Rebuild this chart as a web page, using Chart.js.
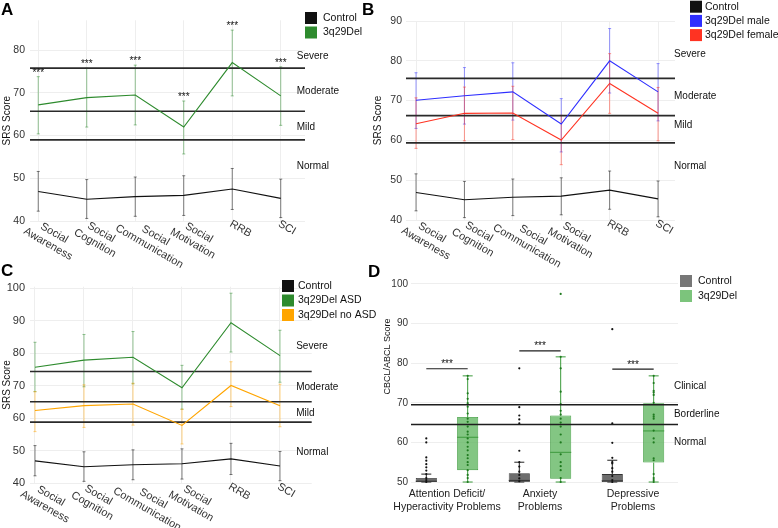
<!DOCTYPE html>
<html>
<head>
<meta charset="utf-8">
<script src="https://cdn.jsdelivr.net/npm/chart.js@4.4.1/dist/chart.umd.min.js"></script>
<style>
  html, body { margin: 0; padding: 0; background: #fff; }
  body { width: 778px; height: 528px; position: relative; overflow: hidden; }
  .panel { position: absolute; }
  .tag { position: absolute; font: bold 17px/20px "Liberation Sans", Arial, sans-serif; color: #000; }
</style>
</head>
<body>
<div class="panel" style="left:0;top:0;width:368px;height:270px"><canvas id="chartA"></canvas></div>
<div class="panel" style="left:362px;top:0;width:416px;height:270px"><canvas id="chartB"></canvas></div>
<div class="panel" style="left:0;top:270px;width:380px;height:258px"><canvas id="chartC"></canvas></div>
<div class="panel" style="left:370px;top:270px;width:408px;height:258px"><canvas id="chartD"></canvas></div>
<div class="tag" style="left:1px;top:0">A</div>
<div class="tag" style="left:362px;top:0">B</div>
<div class="tag" style="left:1px;top:261px">C</div>
<div class="tag" style="left:368px;top:262px">D</div>
<script>
const fontFamily = '"Liberation Sans", Arial, sans-serif';
Chart.defaults.font.family = fontFamily;

// SRS subscales, panels A-C
const srsCategories = [['Social', 'Awareness'], ['Social', 'Cognition'], ['Social', 'Communication'], ['Social', 'Motivation'], ['RRB'], ['SCI']];
const srsBands = ['Severe', 'Moderate', 'Mild', 'Normal'];

const controlMean = [46.9, 45.1, 45.7, 46.0, 47.5, 45.3];
const controlLow = [42.3, 40.6, 41.1, 41.3, 42.7, 40.8];
const controlHigh = [51.6, 49.7, 50.3, 50.6, 52.3, 49.8];

const delMean = [67.2, 68.9, 69.5, 62.0, 77.1, 69.3];
const delLow = [60.4, 62.0, 62.5, 55.7, 69.3, 62.4];
const delHigh = [73.8, 75.8, 76.5, 68.1, 84.7, 76.1];
const delStars = ['***', '***', '***', '***', '***', '***'];

const maleMean = [70.1, 71.2, 72.2, 64.1, 80.0, 72.2];
const maleLow = [63.0, 64.1, 65.1, 57.1, 71.9, 64.9];
const maleHigh = [77.0, 78.3, 79.5, 70.5, 88.1, 79.3];
const femaleMean = [64.2, 66.8, 66.9, 60.1, 74.3, 66.8];
const femaleLow = [58.0, 59.9, 60.2, 53.9, 66.8, 59.9];
const femaleHigh = [70.7, 73.4, 73.6, 66.3, 81.8, 73.3];

const asdMean = [75.7, 77.9, 78.8, 69.4, 89.4, 79.3];
const asdLow = [68.2, 69.7, 70.6, 62.8, 80.4, 71.1];
const asdHigh = [83.4, 85.8, 86.7, 76.3, 98.5, 87.1];
const noAsdMean = [62.4, 63.9, 64.4, 57.8, 70.1, 63.9];
const noAsdLow = [55.9, 57.2, 57.9, 52.1, 63.6, 57.4];
const noAsdHigh = [68.2, 70.3, 70.8, 62.8, 77.4, 70.5];

const cutoffsA = [75.8, 65.7, 59.0];
const bandLevelsA = [78.6, 70.4, 62.0, 52.9];
const cutoffsB = [75.6, 66.2, 59.4];
const bandLevelsB = [81.7, 71.2, 63.7, 53.4];
const cutoffsC = [74.4, 65.1, 58.8];
const bandLevelsC = [82.2, 69.5, 61.7, 49.7];

// CBCL/ABCL, panel D
const cbclCategories = [['Attention Deficit/', 'Hyperactivity Problems'], ['Anxiety', 'Problems'], ['Depressive', 'Problems']];
const cbclBands = ['Clinical', 'Borderline', 'Normal'];
const cbclCutoffs = [69.5, 64.5];
const cbclBandLevels = [74.2, 67.2, 60.1];
const sigLevels = [78.6, 83.1, 78.5];

const ctrlQ1 = [50, 50, 50];
const ctrlMedian = [50.2, 50.4, 50.3];
const ctrlQ3 = [51, 52.2, 52];
const ctrlMin = [50, 50, 50];
const ctrlMax = [52, 55, 55.5];
const ctrlPoints = [
  [61, 60, 56.2, 55.4, 54.5, 53.7, 52.9, 52, 51, 50.5, 50],
  [78.7, 68.9, 66.8, 65.8, 64.8, 57.9, 55, 53.9, 52.6, 51.8, 50.9, 50.2],
  [88.6, 64.8, 59.9, 56.1, 55, 54.7, 53.5, 52.6, 51.5, 50.5, 50]
];

const delQ1 = [53.0, 50.8, 54.9];
const delMedian = [61.3, 57.5, 62.9];
const delQ3 = [66.4, 66.8, 69.9];
const delMin = [50, 50, 50];
const delMax = [76.8, 81.6, 76.8];
const delPoints = [
  [76.8, 76, 72.4, 71, 69.9, 69, 67.3, 66, 65.2, 64, 62.7, 62, 61, 60, 58.9, 58, 56.8, 56, 55, 54.3, 53, 51.8, 51, 50],
  [97.5, 81.6, 78.7, 72.8, 69.7, 68, 67, 66, 65, 64, 62, 60, 57, 55, 54, 53, 51, 50],
  [76.8, 75, 73, 72.6, 72, 70, 67, 66.5, 66, 63, 61, 60, 56, 55.5, 52, 51, 50.5, 50]
];

function drawLegend(ctx, L, items) {
  ctx.textAlign = 'left';
  ctx.textBaseline = 'middle';
  ctx.font = `10.5px ${fontFamily}`;
  items.forEach((it, k) => {
    const cy = L.y + k * L.gap;
    ctx.fillStyle = it.color;
    ctx.fillRect(L.x, cy - 6, 12, 12);
    ctx.fillStyle = '#111';
    ctx.fillText(it.label, L.x + L.textDx, cy);
  });
}

function srsPlugin(p) {
  return {
    id: 'srsExtras',
    beforeDatasetsDraw(chart) {
      const { ctx, chartArea: area, scales: { x, y } } = chart;
      ctx.save();
      ctx.lineWidth = 1;
      p.series.forEach(s => {
        ctx.strokeStyle = s.err;
        s.low.forEach((lo, i) => {
          const px = x.getPixelForValue(i + 1);
          const y0 = y.getPixelForValue(lo);
          const y1 = y.getPixelForValue(s.high[i]);
          ctx.beginPath();
          ctx.moveTo(px, y0); ctx.lineTo(px, y1);
          ctx.moveTo(px - 1.5, y0); ctx.lineTo(px + 1.5, y0);
          ctx.moveTo(px - 1.5, y1); ctx.lineTo(px + 1.5, y1);
          ctx.stroke();
        });
      });
      ctx.strokeStyle = '#2a2a2a';
      ctx.lineWidth = 1.7;
      p.cutoffs.forEach(v => {
        const py = y.getPixelForValue(v);
        ctx.beginPath();
        ctx.moveTo(area.left, py);
        ctx.lineTo(area.right, py);
        ctx.stroke();
      });
      ctx.restore();
    },
    afterDraw(chart) {
      const { ctx, chartArea: area, scales: { x, y } } = chart;
      ctx.save();
      ctx.fillStyle = '#111';
      ctx.font = `10px ${fontFamily}`;
      ctx.textAlign = 'left';
      ctx.textBaseline = 'middle';
      srsBands.forEach((t, i) => ctx.fillText(t, x.getPixelForValue(p.bandX), y.getPixelForValue(p.bandLevels[i])));

      ctx.textAlign = 'center';
      ctx.textBaseline = 'alphabetic';
      p.series.forEach(s => {
        if (!s.stars) return;
        s.stars.forEach((t, i) => ctx.fillText(t, x.getPixelForValue(i + 1), y.getPixelForValue(s.high[i]) - 1));
      });

      // slanted category labels
      ctx.font = `11px ${fontFamily}`;
      ctx.fillStyle = '#333';
      ctx.textBaseline = 'middle';
      srsCategories.forEach((lines, i) => {
        const widths = lines.map(t => ctx.measureText(t).width);
        const w1 = widths[0];
        const start = -2 + 0.45 * (Math.max(...widths) - w1) / 2;
        ctx.save();
        ctx.translate(x.getPixelForValue(i + 1), area.bottom + p.labelGap);
        ctx.rotate(Math.PI / 6);
        lines.forEach((t, k) => ctx.fillText(t, start + w1 / 2, k * 12.5));
        ctx.restore();
      });

      drawLegend(ctx, p.legend, p.series.map(s => ({ label: s.label, color: s.color })));
      ctx.restore();
    }
  };
}

function srsChart(id, p) {
  return new Chart(document.getElementById(id), {
    type: 'line',
    data: {
      datasets: p.series.map(s => ({
        label: s.label,
        data: s.mean.map((m, i) => ({ x: i + 1, y: m })),
        borderColor: s.color,
        borderWidth: 1.1,
        pointRadius: 0,
        tension: 0,
        fill: false
      }))
    },
    options: {
      responsive: true,
      maintainAspectRatio: false,
      animation: false,
      devicePixelRatio: 1,
      layout: { padding: p.padding },
      plugins: { legend: { display: false }, tooltip: { enabled: false } },
      scales: {
        x: {
          type: 'linear', min: p.xMin, max: p.xMax,
          grid: { color: '#eeeeee', drawTicks: false },
          border: { display: false },
          ticks: { display: false, stepSize: 1, includeBounds: false }
        },
        y: {
          min: p.yMin, max: p.yMax,
          grid: { color: '#eeeeee', drawTicks: false },
          border: { display: false },
          ticks: { stepSize: 10, includeBounds: false, padding: p.tickPad, color: '#333', font: { size: p.tickSize } },
          title: { display: true, text: 'SRS Score', color: '#111', font: { size: 10 }, padding: { top: 1, bottom: 0 } },
          afterFit: s => { s.width = p.axisWidth; }
        }
      }
    },
    plugins: [srsPlugin(p)]
  });
}

srsChart('chartA', {
  series: [
    { label: 'Control', mean: controlMean, low: controlLow, high: controlHigh, color: '#111111', err: 'rgba(0,0,0,0.5)' },
    { label: '3q29Del', mean: delMean, low: delLow, high: delHigh, color: '#2e8b2e', err: 'rgba(46,139,46,0.5)', stars: delStars }
  ],
  yMin: 40, yMax: 87, xMin: 0.83, xMax: 6.5,
  padding: { left: 0, top: 20.3, right: 63, bottom: 49 }, axisWidth: 30, tickPad: 5, tickSize: 10.5,
  cutoffs: cutoffsA, bandLevels: bandLevelsA, bandX: 6.33, labelGap: 3,
  legend: { x: 305, y: 18, gap: 14.5, textDx: 18 }
});

srsChart('chartB', {
  series: [
    { label: 'Control', mean: controlMean, low: controlLow, high: controlHigh, color: '#111111', err: 'rgba(0,0,0,0.5)' },
    { label: '3q29Del male', mean: maleMean, low: maleLow, high: maleHigh, color: '#2e2eff', err: 'rgba(46,46,255,0.5)' },
    { label: '3q29Del female', mean: femaleMean, low: femaleLow, high: femaleHigh, color: '#ff3322', err: 'rgba(255,51,34,0.5)' }
  ],
  yMin: 40, yMax: 90, xMin: 0.793, xMax: 6.35,
  padding: { left: 9, top: 21, right: 103, bottom: 50 }, axisWidth: 35, tickPad: 4, tickSize: 10.5,
  cutoffs: cutoffsB, bandLevels: bandLevelsB, bandX: 6.33, labelGap: 3.5,
  legend: { x: 328, y: 6.7, gap: 14.2, textDx: 15 }
});

srsChart('chartC', {
  series: [
    { label: 'Control', mean: controlMean, low: controlLow, high: controlHigh, color: '#111111', err: 'rgba(0,0,0,0.5)' },
    { label: '3q29Del ASD', mean: asdMean, low: asdLow, high: asdHigh, color: '#2e8b2e', err: 'rgba(46,139,46,0.5)' },
    { label: '3q29Del no ASD', mean: noAsdMean, low: noAsdLow, high: noAsdHigh, color: '#ffa500', err: 'rgba(255,165,0,0.5)' }
  ],
  yMin: 40, yMax: 100.5, xMin: 0.898, xMax: 6.647,
  padding: { left: 0, top: 16.7, right: 68.3, bottom: 44.7 }, axisWidth: 30, tickPad: 5, tickSize: 11,
  cutoffs: cutoffsC, bandLevels: bandLevelsC, bandX: 6.33, labelGap: 3.5,
  legend: { x: 282, y: 16, gap: 14.5, textDx: 16 }
});

// panel D: box plots built from floating bars
const boxSeries = [
  { label: 'Control', q1: ctrlQ1, q3: ctrlQ3, median: ctrlMedian, lo: ctrlMin, hi: ctrlMax, points: ctrlPoints,
    fill: '#6d6d6d', edge: '#333333', whisker: '#222222', dot: '#111111', swatch: '#777777' },
  { label: '3q29Del', q1: delQ1, q3: delQ3, median: delMedian, lo: delMin, hi: delMax, points: delPoints,
    fill: 'rgba(96,182,96,0.78)', edge: '#3d9a3d', whisker: '#3a9a3a', dot: '#1f7a1f', swatch: '#7cc47c' }
];

const cbclPlugin = {
  id: 'cbclExtras',
  beforeDatasetsDraw(chart) {
    const { ctx, scales: { y } } = chart;
    ctx.save();
    ctx.lineWidth = 1;
    boxSeries.forEach((s, di) => {
      ctx.strokeStyle = s.whisker;
      chart.getDatasetMeta(di).data.forEach((bar, i) => {
        const cx = bar.x;
        const top = y.getPixelForValue(s.hi[i]);
        const bot = y.getPixelForValue(s.lo[i]);
        ctx.beginPath();
        ctx.moveTo(cx, top); ctx.lineTo(cx, y.getPixelForValue(s.q3[i]));
        ctx.moveTo(cx, bot); ctx.lineTo(cx, y.getPixelForValue(s.q1[i]));
        ctx.moveTo(cx - 5, top); ctx.lineTo(cx + 5, top);
        ctx.moveTo(cx - 5, bot); ctx.lineTo(cx + 5, bot);
        ctx.stroke();
      });
    });
    ctx.restore();
  },
  afterDatasetsDraw(chart) {
    const { ctx, chartArea: area, scales: { y } } = chart;
    ctx.save();
    boxSeries.forEach((s, di) => {
      chart.getDatasetMeta(di).data.forEach((bar, i) => {
        const cx = bar.x;
        const hw = bar.width / 2;
        const my = y.getPixelForValue(s.median[i]);
        ctx.strokeStyle = s.edge;
        ctx.lineWidth = 1;
        ctx.beginPath();
        ctx.moveTo(cx - hw, my); ctx.lineTo(cx + hw, my);
        ctx.stroke();
        ctx.fillStyle = s.dot;
        s.points[i].forEach(v => {
          ctx.beginPath();
          ctx.arc(cx, y.getPixelForValue(v), 1.1, 0, Math.PI * 2);
          ctx.fill();
        });
      });
    });

    ctx.strokeStyle = '#1e1e1e';
    ctx.lineWidth = 1.5;
    cbclCutoffs.forEach(v => {
      const py = y.getPixelForValue(v);
      ctx.beginPath();
      ctx.moveTo(area.left, py);
      ctx.lineTo(area.right, py);
      ctx.stroke();
    });

    // significance brackets
    const a = chart.getDatasetMeta(0).data;
    const b = chart.getDatasetMeta(1).data;
    ctx.lineWidth = 1.2;
    ctx.fillStyle = '#111';
    ctx.font = `10px ${fontFamily}`;
    ctx.textAlign = 'center';
    ctx.textBaseline = 'alphabetic';
    sigLevels.forEach((v, i) => {
      const py = y.getPixelForValue(v);
      ctx.beginPath();
      ctx.moveTo(a[i].x, py);
      ctx.lineTo(b[i].x, py);
      ctx.stroke();
      ctx.fillText('***', (a[i].x + b[i].x) / 2, py - 1.5);
    });
    ctx.restore();
  },
  afterDraw(chart) {
    const { ctx, scales: { x, y } } = chart;
    ctx.save();
    ctx.fillStyle = '#111';
    ctx.font = `10px ${fontFamily}`;
    ctx.textAlign = 'left';
    ctx.textBaseline = 'middle';
    cbclBands.forEach((t, i) => ctx.fillText(t, x.getPixelForValue(3.44), y.getPixelForValue(cbclBandLevels[i])));

    ctx.save();
    ctx.translate(17.5, 86.5);
    ctx.rotate(-Math.PI / 2);
    ctx.font = `9px ${fontFamily}`;
    ctx.textAlign = 'center';
    ctx.fillText('CBCL/ABCL Score', 0, 0);
    ctx.restore();

    drawLegend(ctx, { x: 310, y: 11, gap: 15, textDx: 18 }, boxSeries.map(s => ({ label: s.label, color: s.swatch })));
    ctx.restore();
  }
};

new Chart(document.getElementById('chartD'), {
  type: 'bar',
  data: {
    datasets: boxSeries.map(s => ({
      label: s.label,
      data: s.q1.map((q, i) => ({ x: i + 1, y: [q, s.q3[i]] })),
      backgroundColor: s.fill,
      borderColor: s.edge,
      borderWidth: 0.8,
      borderSkipped: false,
      categoryPercentage: 0.89,
      barPercentage: 0.51
    }))
  },
  options: {
    responsive: true,
    maintainAspectRatio: false,
    animation: false,
    devicePixelRatio: 1,
    layout: { padding: { left: 12, right: 100, top: 12, bottom: 14 } },
    plugins: { legend: { display: false }, tooltip: { enabled: false } },
    scales: {
      x: {
        type: 'linear', min: 0.613, max: 3.484, offset: false,
        grid: { display: false, drawTicks: false },
        border: { display: false },
        ticks: {
          stepSize: 1, includeBounds: false, autoSkip: false, maxRotation: 0, minRotation: 0,
          padding: 4, color: '#222', font: { size: 10.5 },
          callback: v => cbclCategories[v - 1] || ''
        },
        afterFit: s => { s.height = 30; }
      },
      y: {
        min: 49.5, max: 100.5,
        grid: { color: '#eeeeee', drawTicks: false },
        border: { display: false },
        ticks: { stepSize: 10, includeBounds: false, padding: 3, color: '#333', font: { size: 10 } },
        afterFit: s => { s.width = 29; }
      }
    }
  },
  plugins: [cbclPlugin]
});
</script>
</body>
</html>
